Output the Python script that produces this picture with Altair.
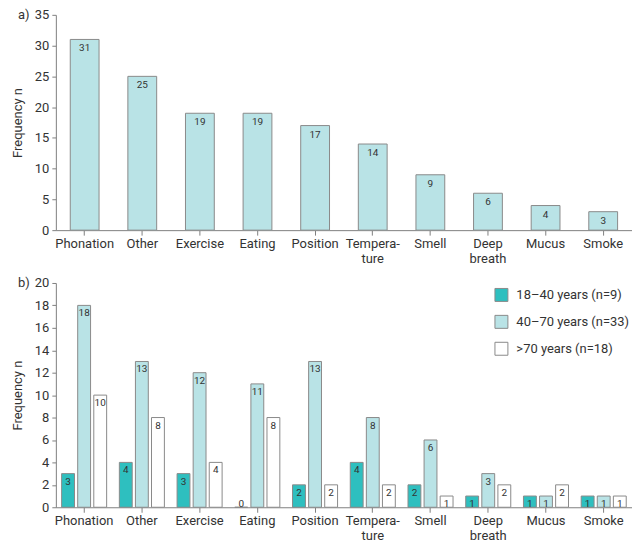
import altair as alt
import pandas as pd

categories = ["Phonation", "Other", "Exercise", "Eating", "Position",
              "Tempera-|ture", "Smell", "Deep|breath", "Mucus", "Smoke"]
total = [31, 25, 19, 19, 17, 14, 9, 6, 4, 3]
groups = ["18\u201340 years (n=9)", "40\u201370 years (n=33)", ">70 years (n=18)"]
g_18_40 = [3, 4, 3, 0, 2, 4, 2, 1, 1, 1]
g_40_70 = [18, 13, 12, 11, 13, 8, 6, 3, 1, 1]
g_70 = [10, 8, 4, 8, 2, 2, 1, 2, 2, 1]
ticks_a = [0, 5, 10, 15, 20, 25, 30, 35]
ticks_b = [0, 2, 4, 6, 8, 10, 12, 14, 16, 18, 20]

TEAL = "#2ebfbf"
LIGHT = "#b9e3e6"
EDGE = "#8a8a8a"
AXIS = "#808080"
TXT = "#333333"
FONT = "Roboto"

df_a = pd.DataFrame({"cat": categories, "v": total})
rows = []
for gname, vals in zip(groups, [g_18_40, g_40_70, g_70]):
    for c, v in zip(categories, vals):
        rows.append({"cat": c, "grp": gname, "v": v})
df_b = pd.DataFrame(rows)

W = 578
HA = 216
HB = 225
GAP = 56

x_axis = alt.Axis(title=None, labelAngle=0, labelFontSize=13, labelFont=FONT,
                  labelColor=TXT, labelExpr="split(datum.value, '|')",
                  labelLineHeight=15, tickSize=5, tickColor=AXIS,
                  domainColor=AXIS, labelPadding=2)


def y_axis(vals):
    return alt.Axis(title="Frequency n", values=vals, grid=False, tickSize=4,
                    tickColor=AXIS, domainColor=AXIS, labelFontSize=13,
                    labelFont=FONT, labelColor=TXT, titleFont=FONT,
                    titleFontSize=13, titleFontWeight="normal", titleColor=TXT,
                    titlePadding=10, labelPadding=3, labelOverlap=False)


# Panel a
xa = alt.X("cat:N", sort=categories, axis=x_axis,
           scale=alt.Scale(paddingInner=0.5, paddingOuter=0.25))
ya_scale = alt.Scale(domain=[0, 35])
bars_a = alt.Chart(df_a).mark_bar(fill=LIGHT, stroke=EDGE, strokeWidth=1).encode(
    x=xa,
    y=alt.Y("v:Q", scale=ya_scale, axis=y_axis(ticks_a)),
)
text_a = alt.Chart(df_a).transform_calculate(ly="max(datum.v, 1)").mark_text(
    baseline="top", dy=4, fontSize=10, font=FONT, color=TXT
).encode(x=xa, y=alt.Y("ly:Q", scale=ya_scale, axis=y_axis(ticks_a)), text="v:Q")
lab_a = alt.Chart(pd.DataFrame({"t": ["a)"]})).mark_text(
    align="left", baseline="middle", fontSize=13, font=FONT, color=TXT
).encode(x=alt.value(-38), y=alt.value(0), text="t:N")
panel_a = alt.layer(bars_a, text_a, lab_a).properties(width=W, height=HA)

# Panel b
xb = alt.X("cat:N", sort=categories, axis=x_axis,
           scale=alt.Scale(paddingInner=0.22, paddingOuter=0.1))
xo = alt.XOffset("grp:N", sort=groups, scale=alt.Scale(paddingInner=0.2))
yb_scale = alt.Scale(domain=[0, 20])
bars_b = alt.Chart(df_b).mark_bar(stroke=EDGE, strokeWidth=1).encode(
    x=xb,
    xOffset=xo,
    y=alt.Y("v:Q", scale=yb_scale, axis=y_axis(ticks_b)),
    fill=alt.Fill("grp:N", sort=groups,
                  scale=alt.Scale(domain=groups, range=[TEAL, LIGHT, "#ffffff"]),
                  legend=alt.Legend(title=None, orient="none", legendX=W - 138,
                                    legendY=HA + GAP + 2,
                                    symbolType="square", symbolSize=169,
                                    symbolStrokeColor=EDGE, symbolStrokeWidth=1,
                                    labelFontSize=13, labelFont=FONT, labelColor=TXT,
                                    rowPadding=9, labelOffset=8, padding=0)),
)
text_b = alt.Chart(df_b).transform_calculate(ly="max(datum.v, 1)").mark_text(
    baseline="top", dy=3, fontSize=10, font=FONT, color=TXT
).encode(x=xb, xOffset=xo, y=alt.Y("ly:Q", scale=yb_scale, axis=y_axis(ticks_b)),
         text="v:Q")
lab_b = alt.Chart(pd.DataFrame({"t": ["b)"]})).mark_text(
    align="left", baseline="middle", fontSize=13, font=FONT, color=TXT
).encode(x=alt.value(-38), y=alt.value(0), text="t:N")
panel_b = alt.layer(bars_b, text_b, lab_b).properties(width=W, height=HB)

chart = alt.vconcat(panel_a, panel_b, spacing=12).properties(
    padding={"left": 3, "top": 0, "right": 0, "bottom": 0}
).configure_view(stroke=None)

chart.save("out.html", embed_options={"renderer": "svg", "actions": False})
